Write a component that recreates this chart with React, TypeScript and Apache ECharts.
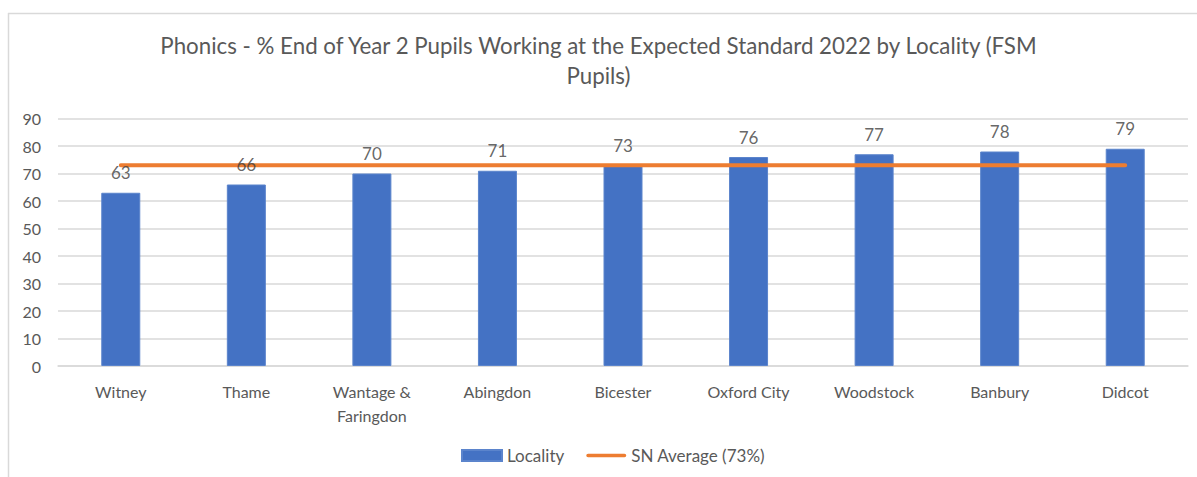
import React, { useEffect, useRef } from "react";
import * as echarts from "echarts";

const categories = [
  "Witney",
  "Thame",
  "Wantage &\nFaringdon",
  "Abingdon",
  "Bicester",
  "Oxford City",
  "Woodstock",
  "Banbury",
  "Didcot",
];
const localityValues = [63, 66, 70, 71, 73, 76, 77, 78, 79];
const averageValues = [73, 73, 73, 73, 73, 73, 73, 73, 73];
const titleText =
  "Phonics - % End of Year 2 Pupils Working at the Expected Standard 2022 by Locality (FSM\nPupils)";
const barName = "Locality";
const lineName = "SN Average (73%)";

const FONT = "Lato, 'Open Sans', sans-serif";

export default function App() {
  const ref = useRef<HTMLDivElement>(null);
  useEffect(() => {
    if (!ref.current) return;
    const chart = echarts.init(ref.current, null, { renderer: "svg" });
    chart.setOption({
      animation: false,
      backgroundColor: "#ffffff",
      textStyle: { fontFamily: FONT },
      title: {
        text: titleText,
        left: "center",
        top: 25,
        textStyle: {
          fontFamily: FONT,
          fontSize: 22.3,
          fontWeight: "normal",
          color: "#595959",
          lineHeight: 30,
        },
      },
      graphic: [
        {
          type: "line",
          shape: { x1: 8, y1: 13.5, x2: 1197, y2: 13.5 },
          style: { stroke: "#d9d9d9", lineWidth: 1.5 },
        },
        {
          type: "line",
          shape: { x1: 8.5, y1: 13, x2: 8.5, y2: 477 },
          style: { stroke: "#d9d9d9", lineWidth: 1.5 },
        },
      ],
      legend: {
        left: 456,
        top: 442,
        itemWidth: 40,
        itemHeight: 11,
        itemGap: 22,
        textStyle: { fontFamily: FONT, fontSize: 17, color: "#595959" },
        data: [
          { name: barName, icon: "rect" },
          {
            name: lineName,
            icon: "path://M2,0 L42,0 A2,2 0 0 1 42,4 L2,4 A2,2 0 0 1 2,0 Z",
            itemStyle: { color: "#ed7d31" },
          },
        ],
      },
      grid: { left: 58, right: 9, top: 118.5, bottom: 111, containLabel: false },
      xAxis: {
        type: "category",
        data: categories,
        axisLine: { lineStyle: { color: "#d9d9d9", width: 1.5 } },
        axisTick: { show: false },
        axisLabel: {
          fontFamily: FONT,
          fontSize: 16,
          color: "#595959",
          margin: 13,
          lineHeight: 24,
          interval: 0,
        },
      },
      yAxis: {
        type: "value",
        min: 0,
        max: 90,
        interval: 10,
        axisLine: { show: false },
        axisTick: { show: false },
        splitLine: { lineStyle: { color: "#d9d9d9", width: 1.5 } },
        axisLabel: { fontFamily: FONT, fontSize: 16, color: "#595959", margin: 17 },
      },
      series: [
        {
          name: barName,
          type: "bar",
          data: localityValues,
          barWidth: 39,
          itemStyle: { color: "#4472c4", borderColor: "#5b84cc", borderWidth: 1 },
          z: 2,
        },
        {
          name: lineName,
          type: "line",
          data: averageValues,
          symbol: "none",
          lineStyle: { color: "#ed7d31", width: 4, cap: "round" },
          itemStyle: { color: "#ed7d31" },
          z: 3,
        },
        {
          name: "labels",
          type: "scatter",
          data: localityValues,
          symbol: "circle",
          symbolSize: 1,
          itemStyle: { color: "rgba(0,0,0,0)" },
          silent: true,
          label: {
            show: true,
            position: "top",
            distance: 11,
            fontFamily: FONT,
            fontSize: 17,
            color: "#404040",
          },
          z: 4,
        },
      ],
    });
    return () => chart.dispose();
  }, []);
  return (
    <div
      ref={ref}
      style={{ position: "absolute", left: 0, top: 0, width: 1197, height: 477 }}
    />
  );
}
